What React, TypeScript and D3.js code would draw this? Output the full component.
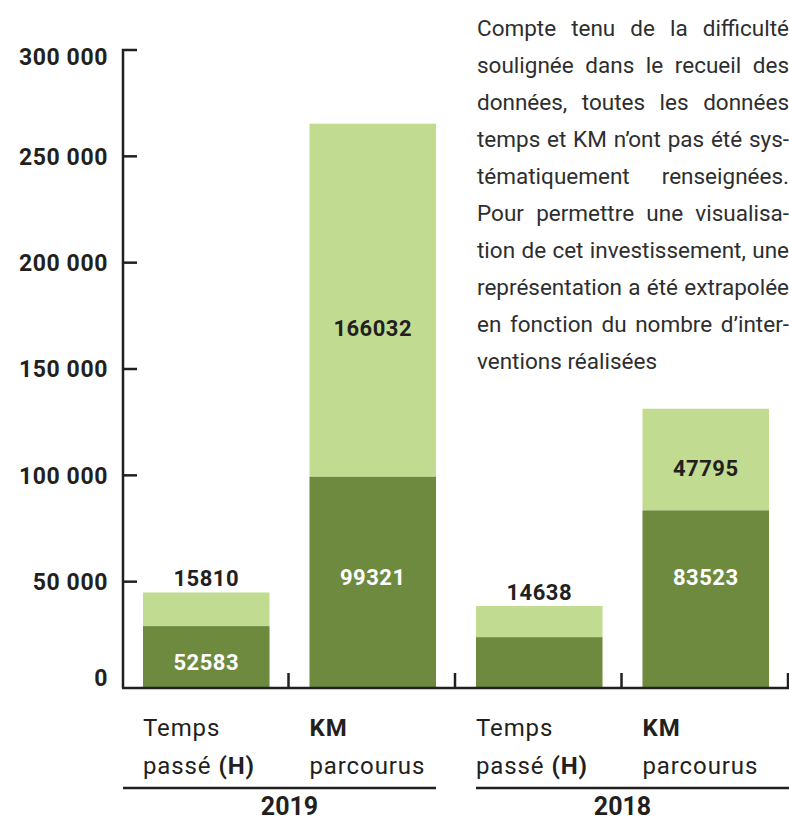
import React, { useMemo } from 'react';
import * as d3 from 'd3';

// bars: one per (year, measure)
const bars = ['2019-temps', '2019-km', '2018-temps', '2018-km'];
const years = ['2019', '2018'];
const catLine1 = ['Temps', 'KM', 'Temps', 'KM'];
const catLine2 = ['passé', 'parcourus', 'passé', 'parcourus'];
const catLine2Bold = ['(H)', '', '(H)', ''];
const catLine1IsBold = [false, true, false, true];

// heights
const darkValues = [29100, 99321, 23900, 83523];
const lightValues = [15810, 166032, 14638, 47795];
const darkLabels = ['52583', '99321', '', '83523'];
const lightLabels = ['15810', '166032', '14638', '47795'];
const lightInside = [false, true, false, true];

const yTicks = [0, 50000, 100000, 150000, 200000, 250000, 300000];

const noteLines = [
  'Compte tenu de la difficulté',
  'soulignée dans le recueil des',
  'données, toutes les données',
  'temps et KM n’ont pas été sys-',
  'tématiquement renseignées.',
  'Pour permettre une visualisa-',
  'tion de cet investissement, une',
  'représentation a été extrapolée',
  'en fonction du nombre d’inter-',
  'ventions réalisées',
];

const W = 789;
const H = 820;
const DARK = '#6e8a3f';
const LIGHT = '#c1dc91';
const INK = '#231f20';
const FONT = 'Roboto, "Noto Sans", sans-serif';

const fr = d3.formatLocale({ decimal: ',', thousands: ' ', grouping: [3], currency: ['', ''] });
const fmt = fr.format(',');

function Note() {
  const left = 477, right = 789, top = 36, lh = 37, fs = 22.5;
  const lines = useMemo(() => {
    const ctx = document.createElement('canvas').getContext('2d')!;
    ctx.font = `${fs}px Roboto`;
    return noteLines.map((ln, i) => {
      const words = ln.split(' ');
      const last = i === noteLines.length - 1;
      const widths = words.map(w => ctx.measureText(w).width);
      const sum = d3.sum(widths);
      if (last) {
        return { whole: ln, words: null as any, squeeze: false };
      }
      const gap = (right - left - sum) / (words.length - 1);
      if (gap < 3) return { whole: ln, words: null as any, squeeze: true };
      let x = left;
      const placed = words.map((w, k) => {
        const p = { w, x };
        x += widths[k] + gap;
        return p;
      });
      return { whole: ln, words: placed, squeeze: false };
    });
  }, []);
  return (
    <g fontFamily={FONT} fontSize={fs} fill="#2e2e2e">
      {lines.map((l, i) => {
        const y = top + i * lh;
        if (l.words) {
          return (
            <text key={i} y={y}>
              {l.words.map((p: any, k: number) => (
                <tspan key={k} x={p.x}>{p.w}</tspan>
              ))}
            </text>
          );
        }
        return (
          <text key={i} x={left} y={y}
            textLength={l.squeeze ? right - left : undefined}
            lengthAdjust={l.squeeze ? 'spacingAndGlyphs' : undefined}>
            {l.whole}
          </text>
        );
      })}
    </g>
  );
}

export default function App() {
  const x = d3.scaleBand<string>().domain(bars).range([123, 789]).paddingInner(0.24).paddingOuter(0.12);
  const y = d3.scaleLinear().domain([0, 300000]).range([688, 50]);
  const step = x.step();
  const bw = x.bandwidth();
  const x0 = 123;

  return (
    <div>
      <svg width={W} height={H} style={{ position: 'absolute', left: 0, top: 0, background: '#fff' }}>
        {/* bars */}
        {bars.map((b, i) => {
          const d = darkValues[i];
          const l = lightValues[i];
          const bx = x(b)!;
          const cx = bx + bw / 2;
          const yDark = y(d);
          const yTop = y(d + l);
          const lightLabelY = lightInside[i]
            ? yDark - 0.42 * (yDark - yTop)
            : yTop - 14;
          const darkLabelY = yDark < y(60000) ? y(52000) : (y(0) + yDark) / 2 + 5;
          return (
            <g key={b}>
              <rect x={bx} y={yTop} width={bw} height={yDark - yTop} fill={LIGHT} />
              <rect x={bx} y={yDark} width={bw} height={y(0) - yDark} fill={DARK} />
              <text x={cx} y={lightLabelY} dy="0.36em" textAnchor="middle" fontFamily={FONT}
                fontWeight={700} fontSize={22} letterSpacing={0.5} fill={INK}>{lightLabels[i]}</text>
              {darkLabels[i] && (
                <text x={cx} y={darkLabelY} dy="0.36em" textAnchor="middle" fontFamily={FONT}
                  fontWeight={700} fontSize={22} letterSpacing={0.5} fill="#fff">{darkLabels[i]}</text>
              )}
            </g>
          );
        })}

        {/* y axis */}
        <path d={`M137,${y(300000)}H${x0}V${y(0)}`} fill="none" stroke={INK} strokeWidth={2.5} />
        {yTicks.map(t => (
          <g key={t}>
            {t > 0 && t < 300000 && <line x1={x0} x2={137} y1={y(t)} y2={y(t)} stroke={INK} strokeWidth={2.5} />}
            <text x={108} y={Math.min(Math.max(y(t), 57), 678)} dy="0.36em" textAnchor="end"
              fontFamily={FONT} fontWeight={700} fontSize={23} letterSpacing={0.6} fill={INK}>{fmt(t)}</text>
          </g>
        ))}

        {/* x axis */}
        <line x1={x0 - 1} x2={W} y1={y(0)} y2={y(0)} stroke={INK} strokeWidth={2.5} />
        {bars.map((b, i) => {
          const tx = x0 + step * (i + 1) - 1;
          return <line key={b} x1={tx} x2={tx} y1={y(0) - 15} y2={y(0)} stroke={INK} strokeWidth={2.5} />;
        })}

        {/* category labels */}
        {bars.map((b, i) => (
          <g key={b} fontFamily={FONT} fontSize={24} letterSpacing={0.9} fill={INK}>
            <text x={x(b)!} y={736} fontWeight={catLine1IsBold[i] ? 700 : 400}>{catLine1[i]}</text>
            <text x={x(b)!} y={774}>
              {catLine2[i]}
              {catLine2Bold[i] && <tspan fontWeight={700}> {catLine2Bold[i]}</tspan>}
            </text>
          </g>
        ))}

        {/* year groups */}
        {years.map((yr, g) => {
          const first = bars[g * 2];
          const last = bars[g * 2 + 1];
          const gx1 = g === 0 ? x0 : x(first)!;
          const gx2 = g === 0 ? x(last)! + bw : W;
          const mid = x0 + step * (g * 2 + 1);
          return (
            <g key={yr}>
              <line x1={gx1} x2={gx2} y1={788} y2={788} stroke={INK} strokeWidth={2.5} />
              <text x={mid} y={815} textAnchor="middle" fontFamily={FONT} fontWeight={700}
                fontSize={25} fill={INK}>{yr}</text>
            </g>
          );
        })}

        <Note />
      </svg>
    </div>
  );
}
